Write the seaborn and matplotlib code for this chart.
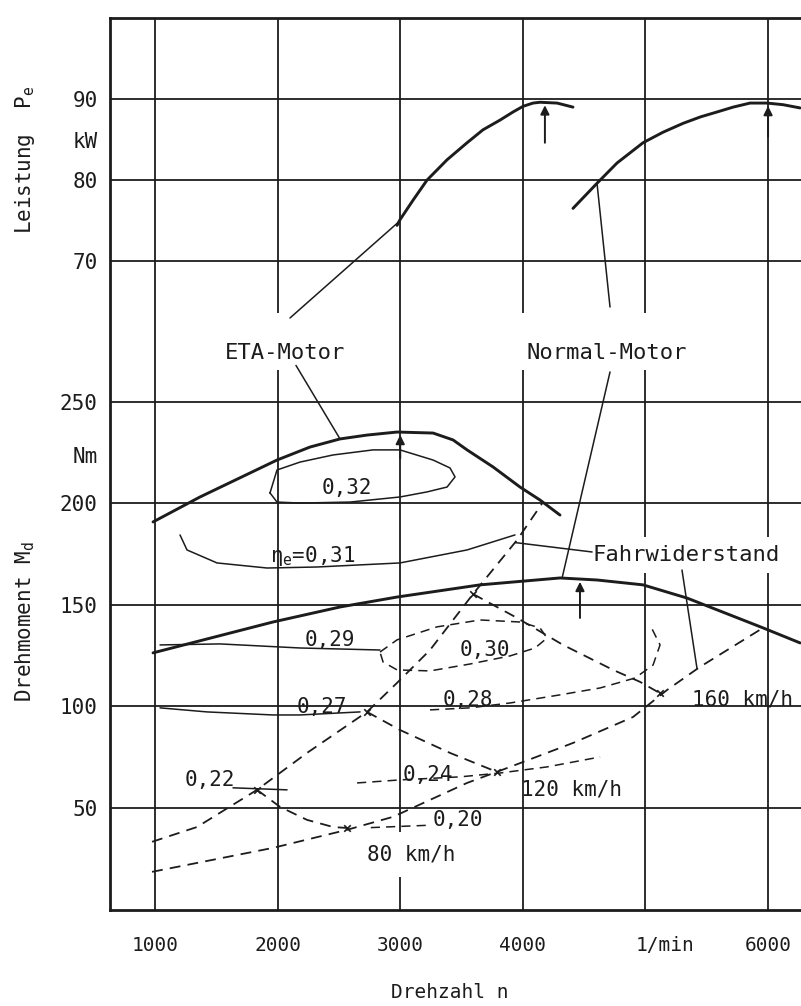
import numpy as np
import matplotlib
matplotlib.use('Agg')
import matplotlib.pyplot as plt
import seaborn as sns

# engine speed in 1/min, torque in Nm, power in kW
eta_power_n = [2974, 2998, 3104, 3219, 3382, 3545, 3675, 3814, 3920, 4002, 4083, 4140, 4279, 4409]
eta_power_kw = [74.4, 75.1, 77.5, 80.0, 82.5, 84.6, 86.2, 87.4, 88.4, 89.1, 89.5, 89.6, 89.5, 89.0]
normal_power_n = [4409, 4605, 4768, 4980, 5143, 5307, 5450, 5584, 5715, 5853, 5992, 6122, 6261]
normal_power_kw = [76.5, 79.6, 82.1, 84.6, 85.9, 87.0, 87.8, 88.4, 89.0, 89.5, 89.5, 89.3, 88.9]

eta_torque_n = [984, 1367, 1995, 2264, 2509, 2729, 2974, 3268, 3431, 3545, 3757, 3977, 4140, 4303]
eta_torque_nm = [190.9, 203.2, 221.4, 227.8, 231.8, 233.7, 235.2, 234.7, 231.3, 226.4, 218.0, 208.1, 201.7, 194.3]
normal_torque_n = [984, 1962, 2509, 2974, 3651, 4303, 4605, 4980, 5339, 5959, 6261]
normal_torque_nm = [126.4, 141.6, 149.0, 153.9, 159.9, 163.3, 162.3, 159.9, 153.4, 138.7, 131.3]

# rpm of the maximum (arrows)
eta_power_peak = 4180
normal_power_peak = 6000
eta_torque_peak = 3000
normal_torque_peak = 4466

# efficiency lines, ETA engine (thin solid)
eff32_n = [1938, 1995, 2183, 2452, 2778, 2998, 3268, 3406, 3447, 3382, 3219, 2998, 2591, 2183, 1995, 1938]
eff32_nm = [205.2, 216.5, 220.4, 223.9, 226.4, 226.4, 221.4, 217.5, 213.1, 208.1, 205.7, 203.2, 200.7, 200.2, 200.7, 205.2]
eff31_n = [1204, 1261, 1506, 1914, 2321, 2998, 3545, 3936]
eff31_nm = [184.5, 177.1, 170.7, 168.2, 168.7, 170.7, 177.1, 184.5]
eff29_n = [1041, 1530, 2183, 2835]
eff29_nm = [130.3, 130.8, 128.8, 127.8]
eff27_n = [1041, 1424, 1962, 2183, 2672]
eff27_nm = [99.3, 97.3, 95.8, 95.8, 97.3]
eff22_n = [1636, 2077]
eff22_nm = [59.9, 58.9]

# efficiency lines, normal engine (dashed)
eff30_n = [2835, 2974, 3300, 3651, 3977, 4140, 4197, 4100, 3896, 3569, 3243, 2974, 2860, 2835]
eff30_nm = [126.8, 132.8, 139.2, 142.6, 141.6, 138.7, 133.7, 128.8, 124.9, 120.9, 117.5, 118.0, 121.9, 126.8]
eff28_n = [3243, 3569, 3896, 4303, 4630, 4915, 5062, 5119, 5038]
eff28_nm = [98.3, 99.3, 101.7, 105.7, 109.1, 114.0, 120.4, 130.3, 140.1]
eff24_n = [2648, 2998, 3488, 3814, 4197, 4630]
eff24_nm = [62.3, 63.8, 65.3, 67.2, 70.2, 75.1]
eff20_n = [2760, 3210]
eff20_nm = [40.3, 41.4]

# road load (Fahrwiderstand)
eta_road_n = [976, 1343, 1832, 2240, 2729, 2974, 3243, 3594, 3953, 4165]
eta_road_nm = [33.3, 40.6, 58.9, 77.1, 97.3, 111.6, 127.8, 155.4, 182.0, 200.7]
normal_road_n = [976, 1962, 2566, 2941, 3545, 3896, 4409, 4899, 5176, 5445, 5959]
normal_road_nm = [18.5, 30.3, 39.2, 45.6, 62.3, 70.2, 82.0, 94.8, 108.1, 119.5, 138.7]

# equal vehicle speed lines
v80_n = [1832, 2020, 2240, 2452, 2566]
v80_nm = [58.9, 50.5, 44.1, 40.6, 40.1]
v120_n = [2729, 2998, 3406, 3790]
v120_nm = [97.3, 88.4, 77.1, 67.7]
v160_n = [3594, 3953, 4328, 4736, 4956, 5119]
v160_nm = [155.4, 143.6, 130.3, 118.0, 112.1, 106.5]

x_ticks = [1000, 2000, 3000, 4000, 5000, 6000]
x_ticklabels = ['1000', '2000', '3000', '4000', '', '6000']
torque_ticks = [50, 100, 150, 200, 250]
power_ticks = [70, 80, 90]

eff_labels = ['0,32', r'$\eta_e$=0,31', '0,29', '0,30', '0,27', '0,28', '0,24', '0,22', '0,20']
eff_label_n = [2566, 2289, 2427, 3692, 2362, 3553, 3227, 1449, 3471]
eff_label_nm = [207.6, 174.1, 132.8, 127.8, 99.8, 103.2, 66.3, 63.8, 44.1]

speed_labels = ['80 km/h', '120 km/h', '160 km/h']
speed_label_n = [3088, 4393, 5788]
speed_label_nm = [26.8, 58.9, 103.2]

INK = '#1c1c1c'
DASH = (0, (6, 4))

sns.set_theme(style='white')
plt.rcParams['font.family'] = ['DejaVu Sans Mono', 'DejaVu Sans']
plt.rcParams['mathtext.fontset'] = 'custom'
plt.rcParams['mathtext.rm'] = 'DejaVu Sans Mono'
plt.rcParams['mathtext.it'] = 'DejaVu Sans Mono'

fig = plt.figure(figsize=(8.01, 10.06), dpi=100)
ax = fig.add_axes([110 / 801, 1 - 910 / 1006, 700 / 801, 892 / 1006])
ax.set_xlim(633, 6342)
ax.set_ylim(-0.3, 439.2)
ax2 = ax.twinx()
ax2.set_ylim(-10.1, 100)

# grid and ticks
ax.set_xticks(x_ticks, x_ticklabels)
ax.set_xticks([5160], ['1/min'], minor=True)
ax.set_yticks(torque_ticks, [str(t) for t in torque_ticks])
ax.set_yticks([224], ['Nm'], minor=True)
ax2.set_yticks(power_ticks, [str(p) for p in power_ticks])
ax2.set_yticks([85], ['kW'], minor=True)
ax2.yaxis.tick_left()
ax.grid(True, which='major', color=INK, lw=1.3)
ax.grid(False, which='minor')
ax2.grid(True, which='major', axis='y', color=INK, lw=1.3)
ax2.grid(False, axis='x')
ax.tick_params(axis='x', which='both', length=0, labelsize=14, pad=19, colors=INK)
ax.tick_params(axis='y', which='both', length=0, labelsize=15, pad=9, colors=INK)
ax2.tick_params(axis='y', which='both', length=0, labelsize=15, pad=9, colors=INK,
                left=True, labelleft=True, right=False, labelright=False)
for side in ['left', 'top', 'bottom']:
    ax.spines[side].set_color(INK)
    ax.spines[side].set_linewidth(2)
ax.spines['right'].set_visible(False)
for sp in ax2.spines.values():
    sp.set_visible(False)

# full load curves
thick = dict(color=INK, linewidth=2.1, sort=False, estimator=None)
sns.lineplot(x=eta_power_n, y=eta_power_kw, ax=ax2, **thick)
sns.lineplot(x=normal_power_n, y=normal_power_kw, ax=ax2, **thick)
sns.lineplot(x=eta_torque_n, y=eta_torque_nm, ax=ax, **thick)
sns.lineplot(x=normal_torque_n, y=normal_torque_nm, ax=ax, **thick)

# efficiency lines
thin = dict(color=INK, linewidth=1.1, sort=False, estimator=None)
for xs, ys in [(eff32_n, eff32_nm), (eff31_n, eff31_nm), (eff29_n, eff29_nm),
               (eff27_n, eff27_nm), (eff22_n, eff22_nm)]:
    sns.lineplot(x=xs, y=ys, ax=ax, **thin)
for xs, ys in [(eff30_n, eff30_nm), (eff28_n, eff28_nm), (eff24_n, eff24_nm), (eff20_n, eff20_nm)]:
    sns.lineplot(x=xs, y=ys, ax=ax, linestyle=DASH, **thin)

# road load and speed lines
dashed = dict(color=INK, linewidth=1.3, sort=False, estimator=None, linestyle=DASH)
sns.lineplot(x=eta_road_n, y=eta_road_nm, ax=ax, **dashed)
sns.lineplot(x=normal_road_n, y=normal_road_nm, ax=ax, **dashed)
for xs, ys in [(v80_n, v80_nm), (v120_n, v120_nm), (v160_n, v160_nm)]:
    sns.lineplot(x=xs, y=ys, ax=ax, **dashed)
    sns.scatterplot(x=[xs[0], xs[-1]], y=[ys[0], ys[-1]], ax=ax, marker='x', s=22,
                    color=INK, linewidth=1.2, zorder=5)


def peak_arrow(axis, n, cn, cv, length):
    tip = np.interp(n, cn, cv)
    axis.annotate('', xy=(n, tip), xytext=(0, -length), textcoords='offset points',
                  arrowprops=dict(arrowstyle='-|>', color=INK, lw=1.4, mutation_scale=13,
                                  shrinkA=0, shrinkB=2))


peak_arrow(ax2, eta_power_peak, eta_power_n, eta_power_kw, 29)
peak_arrow(ax2, normal_power_peak, normal_power_n, normal_power_kw, 24)
peak_arrow(ax, eta_torque_peak, eta_torque_n, eta_torque_nm, 19)
peak_arrow(ax, normal_torque_peak, normal_torque_n, normal_torque_nm, 28)

# labels
box = dict(boxstyle='square,pad=0.3', fc='white', ec='none')
ax.text(2060, 269.2, '\nETA-Motor', ha='center', va='bottom', fontsize=16, color=INK, bbox=box, zorder=3)
ax.text(4687, 269.2, '\nNormal-Motor', ha='center', va='bottom', fontsize=16, color=INK, bbox=box, zorder=3)
ax.text(5331, 174.6, 'Fahrwiderstand', ha='center', va='center', fontsize=16, color=INK,
        bbox=dict(boxstyle='square,pad=0.35', fc='white', ec='none'), zorder=3)
for lab, xn, yt in zip(eff_labels, eff_label_n, eff_label_nm):
    ax.text(xn, yt, lab, ha='center', va='center', fontsize=15, color=INK, zorder=3)
for lab, xn, yt in zip(speed_labels, speed_label_n, speed_label_nm):
    ax.text(xn, yt, lab, ha='center', va='center', fontsize=15, color=INK, zorder=3,
            bbox=dict(boxstyle='square,pad=0.6', fc='white', ec='none') if lab == '80 km/h' else None)


def leader(start_n, start_nm, target_n, cn, cv, target_ax):
    tip = np.interp(target_n, cn, cv)
    ax.annotate('', xy=(target_n, tip), xycoords=target_ax.transData,
                xytext=(start_n, start_nm), textcoords='data',
                arrowprops=dict(arrowstyle='-', color=INK, lw=1.1, shrinkA=0, shrinkB=0),
                zorder=4)


leader(2101, 291.4, 2990, eta_power_n, eta_power_kw, ax2)
leader(2150, 268.0, 2509, eta_torque_n, eta_torque_nm, ax)
leader(4711, 296.8, 4605, normal_power_n, normal_power_kw, ax2)
leader(4711, 264.8, 4320, normal_torque_n, normal_torque_nm, ax)
leader(4565, 176.1, 3936, eta_road_n, eta_road_nm, ax)
leader(5298, 167.2, 5421, normal_road_n, normal_road_nm, ax)

ax.set_xlabel('')
ax.set_ylabel('')
ax2.set_ylabel('')
fig.text(25 / 801, 1 - 160 / 1006, r'Leistung  $\mathrm{P_e}$', rotation=90, ha='center',
         va='center', fontsize=15, color=INK)
fig.text(25 / 801, 1 - 622 / 1006, r'Drehmoment $\mathrm{M_d}$', rotation=90, ha='center',
         va='center', fontsize=15, color=INK)
fig.text(450 / 801, 1 - 992 / 1006, 'Drehzahl n', ha='center', va='center', fontsize=14, color=INK)

fig.savefig('out.png', dpi=100)
